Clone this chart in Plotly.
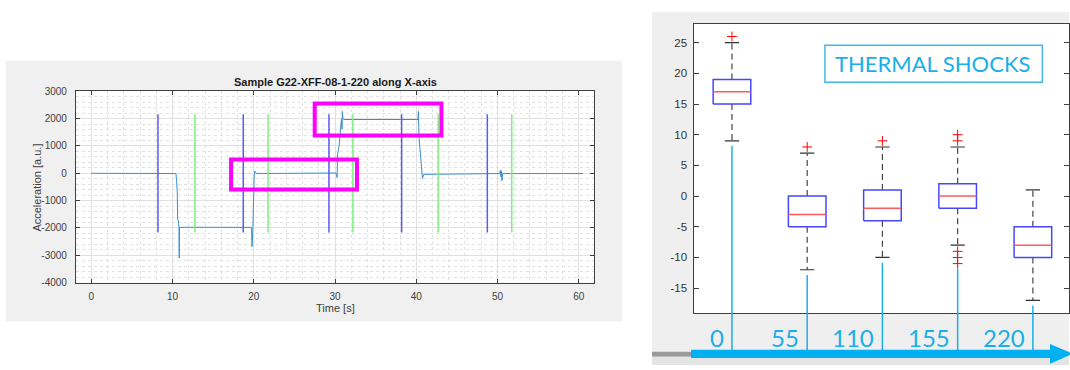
import plotly.graph_objects as go

W, H = 1070, 370


def fx(p):
    return p / W


def fy(p):
    return 1 - p / H


# ---- Left panel: acceleration record along the X axis ----
time_s = [0.0, 10.42, 10.50, 10.58, 10.62, 10.70, 10.79, 10.82, 10.85, 12.0, 19.73,
          19.77, 19.80, 19.89, 19.97, 20.05, 20.13, 20.34, 30.10, 30.26, 30.31,
          30.50, 30.68, 30.80, 30.86, 30.90, 30.92, 30.96, 31.08, 40.22, 40.26,
          40.34, 40.52, 40.64, 40.76, 40.92, 50.27, 50.36, 50.43, 50.49, 50.55,
          50.64, 60.52]
accel = [0, -10, -310, -720, -1675, -1735, -1995, -3100, -1980, -1975, -1980,
         -2683, -2600, -1970, -606, -72, 80, -10, 10, -155, 700,
         1000, 1650, 2000, 1620, 2265, 1700, 2050, 1968, 1968, 2265,
         1290, 700, 45, -190, -40, -10, 105, -130, 90, -275,
         -10, -10]
time_ticks = [0, 10, 20, 30, 40, 50, 60]
accel_ticks = [-4000, -3000, -2000, -1000, 0, 1000, 2000, 3000]

start_marks = [8.2, 18.7, 29.25, 38.2, 48.75]
end_marks = [12.75, 21.75, 32.2, 42.7, 51.75]
mark_top, mark_bottom = 2160, -2170

# highlighted regions: (t0, t1, a0, a1)
highlights = [(17.2, 32.7, -596, 508), (27.5, 43.1, 1387, 2551)]

# ---- Right panel: distribution after thermal shocks ----
shocks = [0, 55, 110, 155, 220]
q1 = [15, -5, -4, -2, -10]
median = [17, -3, -2, 0, -8]
q3 = [19, 0, 1, 2, -5]
whisker_lo = [9, -12, -10, -8, -17]
whisker_hi = [25, 7, 8, 8, 1]
outliers = [[26], [8], [9], [9, 10, -9, -10, -11], []]
value_ticks = [-15, -10, -5, 0, 5, 10, 15, 20, 25]

fig = go.Figure()

# acceleration signal
fig.add_trace(go.Scatter(x=time_s, y=accel, mode="lines",
                         line=dict(color="#3a8fd0", width=1),
                         xaxis="x", yaxis="y", hoverinfo="skip"))


def vlines(ts, top, bottom):
    xs, ys = [], []
    for t in ts:
        xs += [t, t, None]
        ys += [bottom, top, None]
    return xs, ys


bx, by = vlines(start_marks, mark_top, mark_bottom)
gx, gy = vlines(end_marks, mark_top, mark_bottom)
fig.add_trace(go.Scatter(x=bx, y=by, mode="lines", line=dict(color="#5a5af5", width=1.5),
                         xaxis="x", yaxis="y", hoverinfo="skip"))
fig.add_trace(go.Scatter(x=gx, y=gy, mode="lines", line=dict(color="#80ee80", width=1.5),
                         xaxis="x", yaxis="y", hoverinfo="skip"))

# box plots
pos = list(range(1, len(shocks) + 1))
half_w, cap_w = 0.25, 0.095
wx, wy, rx, ry, mx, my, cx, cy, ox, oy = [], [], [], [], [], [], [], [], [], []
for i, p in enumerate(pos):
    wx += [p, p, None, p, p, None]
    wy += [q3[i], whisker_hi[i], None, q1[i], whisker_lo[i], None]
    rx += [p - half_w, p + half_w, p + half_w, p - half_w, p - half_w, None]
    ry += [q1[i], q1[i], q3[i], q3[i], q1[i], None]
    mx += [p - half_w, p + half_w, None]
    my += [median[i], median[i], None]
    cx += [p - cap_w, p + cap_w, None, p - cap_w, p + cap_w, None]
    cy += [whisker_hi[i], whisker_hi[i], None, whisker_lo[i], whisker_lo[i], None]
    for v in outliers[i]:
        ox.append(p)
        oy.append(v)

fig.add_trace(go.Scatter(x=wx, y=wy, mode="lines",
                         line=dict(color="#444444", width=1.2, dash="6px,4px"),
                         xaxis="x2", yaxis="y2", hoverinfo="skip"))
fig.add_trace(go.Scatter(x=cx, y=cy, mode="lines", line=dict(color="#333333", width=1.2),
                         xaxis="x2", yaxis="y2", hoverinfo="skip"))
fig.add_trace(go.Scatter(x=rx, y=ry, mode="lines", line=dict(color="#4646ff", width=1.5),
                         xaxis="x2", yaxis="y2", hoverinfo="skip"))
fig.add_trace(go.Scatter(x=mx, y=my, mode="lines", line=dict(color="#ff5a5a", width=1.5),
                         xaxis="x2", yaxis="y2", hoverinfo="skip"))
fig.add_trace(go.Scatter(x=ox, y=oy, mode="markers",
                         marker=dict(symbol="cross-thin", size=7,
                                     line=dict(color="#ff0000", width=1)),
                         xaxis="x2", yaxis="y2", hoverinfo="skip"))

# layout geometry (pixels)
L_left, L_right, L_top, L_bot = 76, 594.7, 88.7, 285.3
R_left, R_top, R_bot = 695, 19.3, 316.7
r_ylo, r_yhi = -19.07, 28.07
unit_px = (R_bot - R_top) / (r_yhi - r_ylo)
ext_lo = r_yhi - (H - R_top) / unit_px
arrow_y = 358.5
arrow_val = r_yhi - (arrow_y - R_top) / unit_px
r_xrange = [0.5, 0.5 + (W - R_left) / 75.3]

# blue leader lines from each box down to the arrow
lx, ly = [], []
for i, p in enumerate(pos):
    lowest = min([whisker_lo[i]] + outliers[i])
    lx += [p, p, None]
    ly += [lowest - 0.85, arrow_val, None]
fig.add_trace(go.Scatter(x=lx, y=ly, mode="lines", line=dict(color="#1aaee8", width=1.5),
                         xaxis="x3", yaxis="y3", hoverinfo="skip"))

axis_font = dict(family="Liberation Sans, Arial, sans-serif", size=10, color="#404040")
fig.update_layout(
    width=W, height=H, margin=dict(l=0, r=0, t=0, b=0),
    paper_bgcolor="white", plot_bgcolor="rgba(0,0,0,0)", showlegend=False,
    xaxis=dict(domain=[fx(L_left), fx(L_right)], range=[-1.9, 61.9], anchor="y",
               tickvals=time_ticks, ticktext=[str(v) for v in time_ticks],
               ticks="inside", ticklen=4,
               tickcolor="#404040", showline=True, linecolor="#404040", linewidth=1,
               mirror="allticks", showgrid=True, gridcolor="#e0e0e0", gridwidth=1,
               zeroline=False, tickfont=axis_font, ticklabelstandoff=4,
               minor=dict(dtick=2, showgrid=True, gridcolor="#e2e2e2", griddash="dot",
                          gridwidth=1)),
    yaxis=dict(domain=[fy(L_bot), fy(L_top)], range=[-4000, 3000], anchor="x",
               tickvals=accel_ticks, ticktext=[str(v) for v in accel_ticks],
               ticks="inside", ticklen=4, tickcolor="#404040", showline=True,
               linecolor="#404040", linewidth=1, mirror="allticks", showgrid=True,
               gridcolor="#e0e0e0", gridwidth=1, zeroline=False, tickfont=axis_font,
               ticklabelstandoff=6,
               minor=dict(dtick=200, showgrid=True, gridcolor="#e2e2e2", griddash="dot",
                          gridwidth=1)),
    xaxis2=dict(domain=[fx(R_left), 1.0], range=r_xrange, anchor="y2",
                showticklabels=False, ticks="", showline=True, linecolor="#404040",
                linewidth=1, mirror=True, showgrid=False, zeroline=False),
    yaxis2=dict(domain=[fy(R_bot), fy(R_top)], range=[r_ylo, r_yhi], anchor="x2",
                tickvals=value_ticks, ticktext=[str(v) for v in value_ticks],
                ticks="inside", ticklen=5,
                tickcolor="#404040", showline=True, linecolor="#404040", linewidth=1,
                mirror="allticks", showgrid=False, zeroline=False,
                tickfont=dict(family="Liberation Sans, Arial, sans-serif", size=11.5,
                              color="#333333"), ticklabelstandoff=4),
    xaxis3=dict(domain=[fx(R_left), 1.0], range=r_xrange, visible=False, anchor="y3"),
    yaxis3=dict(domain=[0, fy(R_top)], range=[ext_lo, r_yhi], visible=False, anchor="x3"),
)

shapes = [
    # panel backgrounds
    dict(type="rect", xref="paper", yref="paper", x0=fx(5.7), x1=fx(622.7), y0=fy(325.3),
         y1=fy(57.3), fillcolor="#f0f0f0", line=dict(width=0), layer="below"),
    dict(type="rect", xref="paper", yref="paper", x0=fx(652.7), x1=1, y0=0,
         y1=fy(7.3), fillcolor="#efefef", line=dict(width=0), layer="below"),
    dict(type="rect", xref="paper", yref="paper", x0=fx(652.7), x1=fx(692), y0=fy(361.5),
         y1=fy(356.5), fillcolor="#9a9a9a", line=dict(width=0), layer="below"),
    dict(type="rect", xref="paper", yref="paper", x0=fx(652.7), x1=1, y0=0,
         y1=fy(361.5), fillcolor="#e4e4e4", line=dict(width=0), layer="below"),
    # plot areas
    dict(type="rect", xref="x domain", yref="y domain", x0=0, x1=1, y0=0, y1=1,
         fillcolor="white", line=dict(width=0), layer="below"),
    dict(type="rect", xref="x2 domain", yref="y2 domain", x0=0, x1=1, y0=0, y1=1,
         fillcolor="white", line=dict(width=0), layer="below"),
]
for t0, t1, a0, a1 in highlights:
    shapes.append(dict(type="rect", xref="x", yref="y", x0=t0, x1=t1, y0=a0, y1=a1,
                       line=dict(color="#ff00ff", width=4), layer="above"))

# legend box for the right panel
shapes.append(dict(type="rect", xref="paper", yref="paper", x0=fx(825.7), x1=fx(1043.3),
                   y0=fy(79.3), y1=fy(41.3), line=dict(color="#45b6ea", width=1.5)))
# timeline arrow
ay0, ay1 = 354.3, 362.7
path = (f"M {fx(691.7)},{fy(ay0)} L {fx(1051)},{fy(ay0)} L {fx(1051)},{fy(348.3)} "
        f"L {fx(1074)},{fy(arrow_y)} L {fx(1051)},{fy(368.7)} L {fx(1051)},{fy(ay1)} "
        f"L {fx(691.7)},{fy(ay1)} Z")
shapes.append(dict(type="path", xref="paper", yref="paper", path=path,
                   fillcolor="#00b0f0", line=dict(width=0)))
fig.update_layout(shapes=shapes)

annotations = [
    dict(text="<b>Sample G22-XFF-08-1-220 along X-axis</b>", xref="paper", yref="paper",
         x=fx(335.4), y=fy(79), xanchor="center", yanchor="middle", showarrow=False,
         font=dict(family="Liberation Sans, Arial, sans-serif", size=11, color="#1a1a1a")),
    dict(text="Time [s]", xref="paper", yref="paper", x=fx(335.4), y=fy(311),
         xanchor="center", yanchor="middle", showarrow=False,
         font=dict(family="Liberation Sans, Arial, sans-serif", size=11, color="#404040")),
    dict(text="Acceleration [a.u.]", xref="paper", yref="paper", x=fx(36.7), y=fy(188),
         xanchor="center", yanchor="middle", textangle=-90, showarrow=False,
         font=dict(family="Liberation Sans, Arial, sans-serif", size=11, color="#404040")),
    dict(text="THERMAL SHOCKS", xref="paper", yref="paper", x=fx(933), y=fy(60.5),
         xanchor="center", yanchor="middle", showarrow=False,
         font=dict(family="Lato, sans-serif", size=22, color="#1aaeea", weight=400)),
]
for p, s in zip(pos, shocks):
    annotations.append(dict(text=str(s), xref="x3", yref="paper", x=p, y=fy(342),
                            xanchor="right", yanchor="middle", xshift=-6, showarrow=False,
                            font=dict(family="Lato, sans-serif", size=24, color="#1aaeea",
                                      weight=400)))
fig.update_layout(annotations=annotations)

fig.write_html("out.html")
